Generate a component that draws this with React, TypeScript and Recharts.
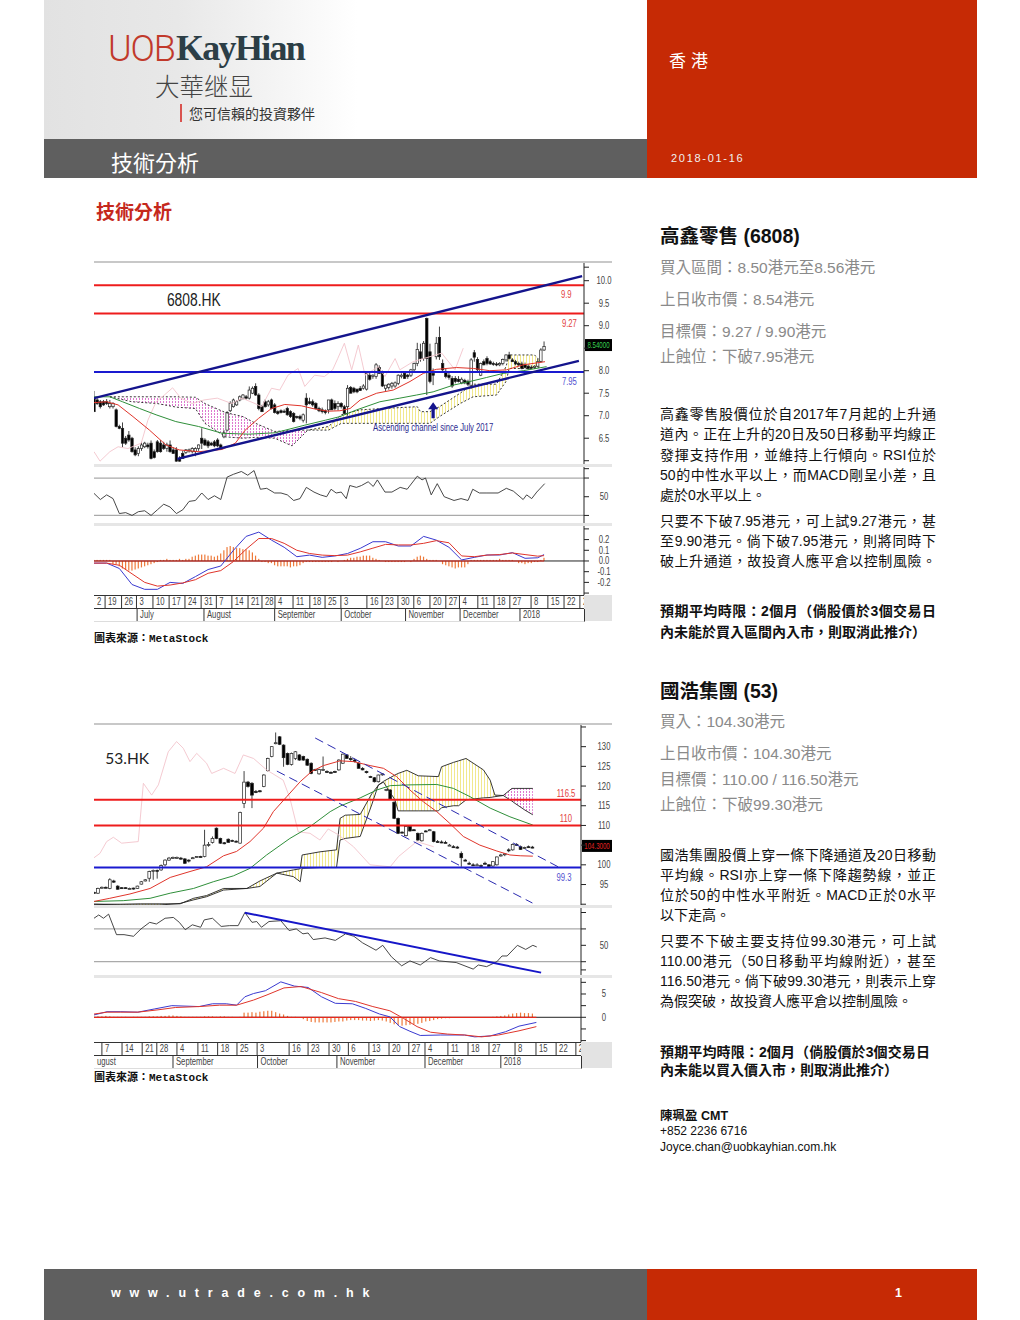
import React from 'react';
import { ComposedChart, Line, Bar, Area, XAxis, YAxis, ReferenceLine, ReferenceDot } from 'recharts';

type Pair = [number, number];
type Row = [number, number, number];

const SANS = '"Liberation Sans",sans-serif';
const CJK = '"Liberation Sans","Noto Sans CJK TC",sans-serif';

// ---- 6808.HK ----
const candles6808 = [
  [7.39,7.55,7.08,7.09],[7.35,7.39,7.24,7.27],[7.31,7.35,7.16,7.2],[7.31,7.35,7.22,7.24],[7.31,7.37,7.24,7.27],
  [7.2,7.35,7.16,7.27],[7.2,7.3,7.16,7.27],[7.13,7.16,6.74,6.76],[6.76,6.8,6.7,6.72],[6.72,6.85,6.3,6.39],
  [6.5,6.55,6.35,6.39],[6.57,6.66,6.42,6.46],[6.5,6.53,6.18,6.2],[6.24,6.3,6.1,6.13],[6.16,6.32,6.1,6.27],
  [6.27,6.42,6.22,6.35],[6.31,6.42,6.28,6.39],[6.35,6.4,6.27,6.31],[6.39,6.45,6.03,6.05],[6.2,6.25,6.05,6.07],
  [6.42,6.46,6.18,6.2],[6.39,6.46,6.18,6.2],[6.35,6.42,6.24,6.27],[6.27,6.4,6.2,6.35],[6.35,6.45,6.18,6.2],
  [6.24,6.3,6.16,6.16],[6.24,6.3,5.98,5.99],[6.05,6.1,5.98,5.99],[6.16,6.22,6.05,6.05],[6.18,6.26,6.15,6.24],
  [6.22,6.27,6.18,6.24],[6.2,6.3,6.16,6.27],[6.2,6.3,6.1,6.27],[6.27,6.36,6.22,6.35],[6.5,6.72,6.26,6.39],
  [6.46,6.5,6.33,6.35],[6.42,6.46,6.28,6.33],[6.39,6.42,6.33,6.35],[6.42,6.46,6.3,6.33],[6.46,6.5,6.3,6.33],
  [6.35,6.38,6.24,6.27],[6.53,6.68,6.5,6.62],[6.68,7.1,6.65,7.07],[7.11,7.32,7.08,7.28],[7.2,7.38,7.18,7.35],
  [7.24,7.34,7.22,7.31],[7.35,7.45,7.32,7.42],[7.39,7.48,7.36,7.46],[7.42,7.46,7.36,7.39],[7.39,7.65,7.36,7.57],
  [7.5,7.65,7.48,7.61],[7.65,7.72,7.44,7.46],[7.46,7.5,7.12,7.16],[7.2,7.24,7.08,7.09],[7.31,7.36,7.18,7.2],
  [7.24,7.35,7.2,7.31],[7.35,7.38,7.14,7.16],[7.24,7.28,7.05,7.07],[7.09,7.12,7.02,7.05],[7.11,7.14,7.05,7.07],
  [7.1,7.14,7.06,7.09],[7.16,7.2,7.0,7.02],[7.09,7.12,6.95,6.98],[7.05,7.08,6.85,6.87],[6.98,7.0,6.93,6.96],
  [6.98,7.02,6.9,6.94],[6.9,7.05,6.85,7.02],[7.39,7.5,6.83,7.24],[7.31,7.4,7.25,7.27],[7.31,7.36,7.2,7.24],
  [7.27,7.3,7.14,7.16],[7.16,7.2,7.08,7.11],[7.13,7.18,7.05,7.09],[7.11,7.14,7.03,7.07],[7.13,7.35,7.05,7.35],
  [7.35,7.38,7.13,7.13],[7.27,7.34,7.12,7.16],[7.2,7.32,7.12,7.27],[7.27,7.3,7.16,7.2],[7.2,7.24,7.03,7.05],
  [7.2,7.68,7.0,7.61],[7.63,7.66,7.5,7.5],[7.61,7.64,7.5,7.53],[7.59,7.6,7.5,7.53],[7.61,7.66,7.55,7.56],
  [7.61,7.7,7.58,7.66],[7.59,7.98,7.56,7.94],[7.9,7.96,7.78,7.81],[7.87,7.92,7.82,7.9],[7.87,8.17,7.82,8.13],
  [8.07,8.12,7.94,7.94],[7.94,8.0,7.64,7.66],[7.61,7.68,7.55,7.68],[7.63,7.72,7.58,7.7],[7.66,7.75,7.6,7.72],
  [7.66,7.76,7.62,7.73],[7.72,7.92,7.68,7.9],[7.87,7.94,7.83,7.9],[7.94,7.97,7.82,7.83],[7.9,7.93,7.82,7.87],
  [7.9,8.04,7.86,8.02],[8.02,8.18,7.98,8.16],[8.16,8.62,8.1,8.47],[8.42,8.6,8.2,8.27],[8.27,8.66,8.22,8.61],
  [9.16,9.18,7.46,8.27],[8.42,8.6,7.72,7.76],[7.94,8.05,7.68,7.9],[8.31,8.75,8.25,8.61],[8.74,8.98,8.24,8.31],
  [8.16,8.25,7.98,8.02],[7.98,8.05,7.83,7.87],[7.9,7.95,7.8,7.85],[7.83,7.88,7.62,7.66],[7.83,7.88,7.72,7.76],
  [7.81,7.88,7.74,7.76],[7.73,7.85,7.7,7.81],[7.78,7.82,7.7,7.73],[7.76,7.8,7.66,7.7],[7.66,8.28,7.6,8.24],
  [8.4,8.46,8.2,8.3],[8.25,8.3,7.98,8.02],[7.9,8.18,7.88,8.16],[8.2,8.25,8.12,8.13],[8.27,8.32,8.12,8.16],
  [8.2,8.24,8.13,8.15],[8.16,8.2,8.11,8.14],[8.15,8.19,8.1,8.14],[8.13,8.19,8.1,8.16],[8.16,8.27,8.12,8.25],
  [8.24,8.36,8.2,8.35],[8.35,8.42,8.25,8.27],[8.24,8.28,8.2,8.2],[8.2,8.24,8.12,8.15],[8.16,8.2,8.1,8.13],
  [8.15,8.2,8.03,8.05],[8.13,8.18,8.05,8.07],[8.1,8.14,8.02,8.05],[8.08,8.12,8.04,8.06],[8.07,8.12,8.04,8.1],
  [8.1,8.26,8.08,8.2],[8.2,8.5,8.18,8.46],[8.46,8.65,8.44,8.54],
];
const ma20_6808: Pair[] = [[0,7.29],[4,7.31],[7.6,7.24],[12.3,6.98],[17.5,6.68],[22.7,6.35],[26.9,6.24],[33.1,6.2],[40.4,6.25],[44.6,6.39],[47.7,6.68],[51.9,6.94],[56,7.16],[60.2,7.25],[65.4,7.22],[69.6,7.15],[73.8,7.1],[77.6,7.11],[80.8,7.16],[84,7.35],[89.2,7.5],[94.4,7.57],[99.7,7.76],[103.9,7.94],[108,8.03],[114.4,8.07],[119.7,8.05],[124.9,8.0],[130.2,8.02],[135.4,8.13],[142.3,8.2]];
const ma50_6808: Pair[] = [[0,7.42],[5,7.42],[9,7.31],[14.4,7.16],[19.6,7.02],[25.8,6.87],[33,6.76],[40.4,6.61],[48.8,6.59],[57.1,6.62],[66.5,6.79],[73,6.9],[77.6,6.98],[82.9,7.13],[90.2,7.31],[96.5,7.39],[101.8,7.46],[107,7.53],[113.4,7.68],[118.6,7.76],[123.9,7.85],[129.1,7.94],[135.4,8.0],[142.8,8.09]];
const lagging6808: Pair[] = [[0,6.2],[1.9,5.99],[5,6.2],[7.6,6.31],[10.7,6.27],[14.9,6.39],[17,6.9],[19.6,7.31],[22.2,7.46],[24.8,7.62],[27.4,7.39],[31,7.27],[34.7,7.35],[38.9,7.39],[43.5,7.27],[46.7,7.39],[50.8,7.27],[52.9,7.2],[56,7.61],[58.6,7.57],[61.2,7.9],[64.4,8.05],[66.5,7.65],[69.6,7.9],[72.7,7.87],[75.3,8.02],[76.9,8.27],[79,8.61],[81.3,8.02],[83.4,8.57],[85.5,7.9],[89.7,8.09],[91.8,7.87],[95,8.27],[96.5,8.02],[100.7,8.2],[109.7,8.39],[113.9,8.02],[116.5,8.5]];
const pinkCloud6808: Row[] = [[5,7.42,7.42],[12,7.42,7.31],[20,7.42,7.27],[26,7.42,7.19],[32,7.41,7.16],[35,7.27,6.83],[41.5,7.07,6.53],[47,6.98,6.5],[51,6.83,6.52],[57,6.65,6.5],[62.5,6.67,6.33],[67.5,6.68,6.68]];
const yellowCloud6808: Row[] = [[67.5,6.68,6.68],[74,6.76,6.68],[78,7.02,6.83],[84,7.13,6.83],[91,7.16,6.83],[102,7.2,6.83],[103,7.09,6.83],[106,7.09,6.83],[109,7.2,6.98],[115.5,7.5,7.27],[119.6,7.7,7.42],[127,7.7,7.46],[130,8.09,7.76],[131,8.35,8.05],[139,8.35,8.05],[141,8.2,8.09]];
const upperChannel6808: Pair[] = [[0,7.39],[154,10.1]];
const lowerChannel6808: Pair[] = [[26.3,6.04],[153,8.22]];
const rsi6808: Pair[] = [[0,53.6],[2,47],[4,52],[6,48],[8,32],[10,33],[12,30],[14,34],[16,35],[18,30],[20,36],[22,42],[24,39],[26,32],[28,36],[30,45],[32,46],[34,54],[36,47],[38,51],[40,47],[42,71],[44,74],[46.5,77],[48.5,73],[50.5,78],[52.5,58],[54.5,59],[57,54],[59,54],[61,52],[63,46],[65,48],[67,60],[69.4,55],[71.4,52],[73.4,50],[74.8,58],[76.4,54],[78,55],[79.6,48],[80.7,62],[82.8,60],[84.4,62],[86.5,66],[88.1,61],[89.4,68],[91.8,55],[94,55],[96.6,60],[98.8,58],[102,72],[103.5,68],[104.6,70],[106.4,52],[108.3,64],[110.5,50],[113.6,46],[115.8,48],[118,46],[119.5,58],[121.6,54],[123.7,54],[127.5,54],[130.1,59],[132.3,56],[135.4,47],[136.5,52],[138.1,48],[139.7,55],[142.2,64]];
const macd6808: Pair[] = [[0,-.02],[4,-.02],[8,-.07],[12,-.22],[16,-.265],[20,-.265],[24,-.2],[28,-.21],[32,-.146],[36,-.08],[40,-.047],[44,.1],[48,.23],[52,.27],[56,.195],[60,.128],[64,.04],[68,.055],[72,.034],[76,.047],[80,.07],[84,.118],[88,.18],[92,.18],[96,.14],[100,.14],[104,.23],[108,.195],[112,.128],[116,.01],[120,.034],[124,.056],[128,.056],[132,.078],[136,.025],[140,.03],[142,.06]];
const signal6808: Pair[] = [[0,-.02],[4,-.02],[8,-.04],[12,-.12],[16,-.2],[20,-.235],[24,-.225],[28,-.205],[32,-.175],[36,-.115],[40,-.09],[44,-.005],[48,.11],[52,.21],[56,.21],[60,.165],[64,.1],[68,.07],[72,.055],[76,.05],[80,.055],[84,.085],[88,.12],[92,.155],[96,.15],[100,.15],[104,.165],[108,.19],[112,.17],[116,.047],[120,.04],[124,.055],[128,.06],[132,.075],[136,.06],[140,.045],[142,.05]];
const hist6808 = [.01,.01,.01,.01,.01,.01,-.03,-.03,-.05,-.07,-.08,-.09,-.09,-.08,-.07,-.06,-.05,-.04,-.03,-.02,-.01,.01,.01,.02,.01,.01,.01,.02,.01,.02,.02,.04,.05,.06,.06,.06,.05,.05,.04,.05,.07,.1,.13,.14,.13,.12,.12,.11,.11,.1,.08,.05,.02,-.01,-.01,-.02,-.02,-.04,-.05,-.05,-.05,-.05,-.06,-.05,-.05,-.04,-.02,-.01,-.01,-.01,-.01,-.01,-.01,-.01,-.01,-.01,0,-.01,0,.01,.02,.03,.03,.04,.04,.05,.05,.05,.03,.02,.01,0,-.01,-.01,-.01,-.01,-.01,-.01,-.01,0,-.01,.02,.04,.05,.04,.02,.01,.01,.01,0,-.03,-.04,-.05,-.06,-.07,-.06,-.06,-.06,-.03,.01,.01,.01,.01,.01,.01,.01,.01,.01,.02,.01,.01,.01,.01,0,-.02,-.02,-.03,-.02,-.02,-.01,-.01,.01,.03];
const dayTicks6808 = [0,3.5,8.7,13.4,18.6,23.7,28.7,33.8,38.6,43.5,48.6,53,57.1,62.8,68.1,72.9,77.9,86.1,90.9,95.9,100.9,106,111,115.3,121.1,126.2,131.2,137.9,143.2,148.3,153.3];
const dayLabels6808 = ['2','19','26','3','10','17','24','31','7','14','21','28','4','11','18','25','3','16','23','30','6','20','27','4','11','18','27','8','15','22','2'];
const monthTicks6808 = [0,13.6,34.7,57,78,98.3,115.5,134.4];
const monthLabels6808 = ['','July','August','September','October','November','December','2018'];
const priceTicks6808 = [10.3,10,9.5,9,8.5,8,7.5,7,6.5,6];
const priceLabels6808 = ['','10.0','9.5','9.0','','8.0','7.5','7.0','6.5',''];
const rsiTicks6808 = [80,70,50,30];
const rsiLabels6808 = ['','','50',''];
const macdTicks6808 = [.3,.2,.1,0,-.1,-.2,-.3];
const macdLabels6808 = ['','0.2','0.1','0.0','-0.1','-0.2',''];

// ---- 53.HK ----
const candles53 = [
  [93,93.2,92.7,92.9],[92.8,94.2,92.6,94],[94.1,94.5,94,94.3],[94.3,94.5,94.1,94.2],[94,96.6,93.8,96.2],
  [95.9,96.2,95.4,95.6],[94.6,94.8,93.7,93.8],[94.2,94.3,93.9,94],[94.2,94.3,93.9,94.1],[94,94.2,93.8,94],
  [94.1,94.2,93.7,94],[94,94.7,93.9,94.6],[95.1,95.9,95,95.7],[95.9,96.4,95.8,96.2],[96.6,98.5,95.7,98.3],
  [98.4,98.8,96.2,98.6],[98.6,98.8,96.5,98.4],[98.7,100.1,98.5,99.8],[100,101.4,99.6,101.2],[101.2,102,101,101.7],
  [101.7,102.1,101.5,101.9],[101.7,102.1,101.5,101.9],[101.7,102,101.3,101.5],[101.5,101.7,100.2,100.4],[101.2,101.4,100.6,101],
  [101.7,102,101.5,101.8],[102,102.2,101.8,102.1],[102.1,102.3,101.9,102],[102.1,108.9,101.9,105],[105,105.8,104.6,105.2],
  [105.7,107.2,105.4,106.7],[109.3,109.5,106.5,106.7],[106.7,106.9,105.3,105.5],[105.6,105.8,105.2,105.5],[106.5,106.7,105.6,105.7],
  [106.2,106.4,105.9,106.1],[106,106.2,105.7,105.9],[105.5,113.5,105.4,113.3],[115.6,123.8,114.4,121],[121,121.3,119.6,119.9],
  [120.7,121,114.4,117.7],[118.6,119,118.2,118.4],[118.8,119,118.4,118.6],[119.9,123,119.7,122.8],[123.9,127.2,123.7,127],
  [127.5,130.1,127.3,130],[130.8,133.6,130.6,131],[132.5,132.7,130.4,130.6],[130.4,130.6,124.9,127.2],[128.3,128.5,125.3,125.5],
  [125.5,128.5,125.2,128.3],[127,128.9,126.6,128.7],[127.9,128.1,126.4,126.6],[127.5,127.7,126.4,126.6],[126.8,127,125.1,125.3],
  [125.8,126,123,123.2],[124.2,124.4,123.9,124.1],[123.1,124.4,122.9,124.2],[124.1,127.5,123.9,124.2],[123.7,124,123.3,123.6],
  [123.5,123.7,123.2,123.4],[123.7,123.9,123.4,123.6],[124.1,126.8,123.9,126.6],[125.8,128.2,125.6,128.1],[127.9,128.1,127,127],
  [127,127.6,126.4,126.7],[126.6,127,126,126.2],[125.8,126,124.5,124.5],[124.5,124.8,124,124.1],[123.7,123.9,123.2,123.4],
  [122.4,122.6,122.1,122.2],[122.1,122.3,120.9,121.1],[121.1,122.9,120.9,122.8],[123,123.3,122.6,123.1],[119,119.3,118.7,119.1],
  [119,119.2,116.5,116.7],[115.9,116.1,111.6,111.8],[111.8,112,107.8,108],[108.3,108.5,108,108.2],[107.4,109.9,107.2,109.7],
  [109.7,110,108.4,108.6],[108.9,109.1,108.6,108.8],[108,108.2,106.1,106.3],[106.1,108.2,105.9,108],[108.6,108.8,108.3,108.5],
  [108.8,109.1,108.6,108.9],[108.4,108.6,105.7,105.9],[105.9,106.3,105.6,105.8],[105.8,106.2,105.5,105.6],[105.7,106.1,105.5,105.6],
  [105,105.3,104.8,105],[104.6,105,104.3,104.5],[104.5,104.8,104.1,104.4],[102.9,103.4,99.5,101.8],[101.2,101.5,100.9,101.1],
  [100.4,100.8,100.1,100.3],[100,100.4,99.8,99.9],[100,100.4,99.8,100],[99.8,100.1,99.5,99.7],[100.4,100.8,100.1,100.3],
  [100,100.2,99.5,99.6],[99.7,100.9,99.5,100.8],[100,102.1,99.8,102],[102.4,102.8,102.1,102.5],[102.7,103,102.2,102.8],
  [103.8,104.2,103.2,103.6],[103.8,105.4,103.6,105.2],[105.2,105.5,104.9,105.1],[104.6,104.9,103.8,103.9],[104.3,104.6,104,104.4],[104.6,104.9,104.3,104.5],[104.5,104.8,104.2,104.3],
];
const ma20_53: Pair[] = [[0,90.7],[4,91.5],[9.1,92.6],[14.2,94],[19.3,96.8],[24.3,98.3],[28.5,99.5],[32.8,102.3],[36.1,103.4],[39.5,105.9],[42.9,109.3],[45.4,113.5],[48.8,117.3],[52.2,121.1],[55.1,123.7],[58.1,125.2],[62.3,126.4],[65.7,126.2],[69.9,125.2],[73.3,124.5],[76.6,122.4],[80,119],[83.4,116],[86.8,113.5],[90.1,110.5],[93.5,107.2],[97.7,105],[102,103.5],[105.3,102.5],[107.9,102.3],[111.1,102.2]];
const ma50_53: Pair[] = [[0,90.7],[7.4,90.9],[14.2,91.5],[19.3,92.8],[25.2,94],[30.2,95.7],[35.3,97.2],[39.5,99.1],[43.7,102.5],[49.6,106.7],[54.7,109.7],[59.8,113.5],[62.3,114.9],[67.4,117],[71.6,119],[75,120.1],[80,120.3],[86.8,120.4],[91,119.4],[95.2,117.3],[100.3,114.4],[105.3,112.2],[111.1,110.1]];
const lagging53: Pair[] = [[0,101.8],[1.5,102.9],[3.2,105.9],[4.9,107],[7,105.5],[11.2,105.9],[12.5,120.7],[14.6,117.7],[16.3,120.3],[18.8,128.7],[20.9,131.3],[22.6,129.6],[24.3,126.2],[26,128.3],[28.5,125.8],[29.8,123.2],[32.8,124.5],[35.7,123.2],[37.8,127.9],[40.4,127],[43.7,124.1],[47.9,121.5],[49.6,116.9],[51.7,108.4],[54.7,108],[57.2,106.3],[59.3,109.1],[61.9,107.6],[65.7,104.6],[69.9,100],[75,99.5],[77.1,102.1],[81.7,105.9],[86,104.6]];
const yellowCloud53: Row[] = [[0,90,90],[6.6,90,89.8],[11.7,90.1,89.8],[16.7,90.1,89.8],[21.8,90.1,90.2],[25.2,91.5,91.1],[28.5,92.2,91.9],[32.8,94,93.6],[38.7,94,94],[42,95.9,94.5],[46.3,97.9,97.9],[50.5,98.7,97],[52.2,99,95.7],[52.7,102.5,99.1],[57.2,103.3,99.3],[61.4,103.8,99.3],[62.3,111.8,106.3],[63.6,112.6,106.7],[67.4,112.8,107.2],[70.3,118,115.2],[72,120.2,120.3],[73.3,121.2,121],[76.2,122.8,116.5],[77,123.2,113.7],[79.2,124,113.7],[82.1,122.6,113.7],[87.2,122.4,113.7],[88,124.9,114.5],[91,126,115],[92.3,126.4,115],[94.2,127,116.5],[98.6,124.1,117],[100.3,121.5,117.1],[101.5,117.7,117.3],[103.6,117.6,117.6]];
const pinkCloud53: Row[] = [[103.6,117.6,117.6],[105.8,119.4,116.2],[106.6,119.4,115.6],[109.1,119.4,113.9],[111.1,119.4,112.7]];
const upperChannel53: Pair[] = [[56,132.2],[117.5,99.5]];
const lowerChannel53: Pair[] = [[46.3,123.8],[111,90.3]];
const rsi53: Pair[] = [[0,83],[1.2,87],[2.4,83],[3.7,88],[5.7,63],[7.6,63],[10,61],[11.9,70],[14.1,78],[15.8,76],[18,83],[20.1,84],[21.6,78],[23.1,69],[24.9,75],[27,72],[27.9,81],[30,83],[32.2,73],[34.3,74],[36.5,74],[38.2,90],[40,78],[41.2,79],[42.4,72],[44.3,79],[47.3,80],[49.4,68],[51.2,70],[52.9,64],[54.2,65],[55.5,57],[58.5,59],[61.1,56],[63.7,64],[65.8,61],[68,53],[71.4,44],[73.1,50],[75.3,36],[77.9,25],[80,31],[82.6,26],[85.2,35],[87.4,31],[91.7,29],[96,21],[97.3,26],[99.4,24],[102,30],[103.3,37],[104.6,37],[107.2,50],[109.3,45],[111.1,50],[112.1,48]];
const rsiTrend53: Pair[] = [[38.2,89.8],[113.2,16.7]];
const macd53: Pair[] = [[0,.5],[3.3,1.2],[6.8,1.2],[11.1,1.1],[15.4,1.8],[19.7,2.5],[26.6,2.3],[30,2.9],[33.5,2.9],[36.1,2.6],[38.2,4.4],[40.4,5.1],[43.4,5.7],[47.3,7.6],[50.7,6.7],[54.2,6.4],[57.6,4.4],[61.1,3],[65.4,2.9],[68.8,1.9],[72.3,.7],[74.9,.1],[77.4,-2],[80,-3],[82.6,-3.9],[87.8,-3.8],[93.8,-3.8],[96.4,-4.2],[100.3,-4],[104.2,-3.1],[107.6,-1.9],[112,-1.1]];
const signal53: Pair[] = [[0,.7],[3.3,1.1],[6.8,1.1],[11.1,1.1],[16.2,1.6],[20.6,2.1],[26.6,2.3],[31.8,2.6],[36.1,2.6],[40.4,3.7],[43.8,4.8],[48.1,6.3],[52.4,6.6],[57.6,5.3],[61.9,4],[66.2,3.4],[70.6,2.3],[74.9,1.4],[78.3,-.2],[81.8,-2],[85.2,-3.2],[89.5,-3.6],[93.8,-3.8],[98.1,-4.2],[102.4,-3.8],[107.6,-2.9],[112,-2]];
const hist53 = [.1,.2,.2,.3,.2,.1,.1,.1,.1,0,.1,.1,.1,.1,.2,.2,.2,.3,.3,.4,.4,.3,.2,.1,.1,.1,.1,.1,.2,.2,.2,.1,.2,.2,.1,.1,0,.1,1,1,1.1,1,1.2,1.3,1.4,1.4,1.1,.8,.6,.3,.1,.1,0,-.4,-.8,-1,-1.1,-1.1,-1.1,-1.1,-1.1,-1,-.9,-.9,-.7,-.6,-.6,-.6,-.7,-.7,-.8,-.7,-.6,-.7,-.9,-1.2,-1.5,-1.7,-1.8,-1.7,-1.6,-1.5,-1.4,-1.2,-.9,-.8,-.6,-.4,-.3,-.2,-.2,-.1,-.1,-.1,0,-.1,-.1,-.1,0,0,0,.1,.2,.3,.4,.6,.8,.9,1,.9,.9,.8];
const dayTicks53 = [2,7.1,12.2,15.9,21,26.3,31.3,36.2,41.3,49.4,54.2,59.5,64.4,69.6,74.7,79.7,83.8,89.6,94.7,100,106.6,111.9,117,122];
const dayLabels53 = ['7','14','21','28','4','11','18','25','3','16','23','30','6','13','20','27','4','11','18','27','8','15','22','2'];
const monthTicks53 = [0,20,41.4,61.5,83.8,103];
const monthLabels53 = ['ugust','September','October','November','December','2018'];
const priceTicks53 = [135,130,125,120,115,110,105,100,95,90];
const priceLabels53 = ['','130','125','120','115','110','','100','95',''];
const rsiTicks53 = [90,70,50,30,20];
const rsiLabels53 = ['','','50','',''];
const macdTicks53 = [7.5,5,2.5,0,-2.5,-5];
const macdLabels53 = ['','5','','0','',''];

const bodyLines6808 = ['高鑫零售股價位於自2017年7月起的上升通', '道內。正在上升的20日及50日移動平均線正', '發揮支持作用，並維持上行傾向。RSI位於', '50的中性水平以上，而MACD剛呈小差，且'];
const bodyLines53 = ['國浩集團股價上穿一條下降通道及20日移動', '平均線。RSI亦上穿一條下降趨勢線，並正', '位於50的中性水平附近。MACD正於0水平'];

const toPoints = (pairs: Pair[]) => pairs.map(([x, v]) => ({ x, v }));
const toCandles = (rows: number[][]) => rows.map(([o, h, l, c], x) => ({ x, o, h, l, c }));
const toHist = (vals: number[]) => vals.map((v, x) => ({ x, v }));
const toCloud = (rows: Row[]) => rows.map(([x, a, b]) => ({ x, r: [b, a], a, b }));

const Candle = (props: any) => {
  const { x, y, width, height, payload, bodyW } = props;
  const { o, h, l, c } = payload;
  const ppx = h > l ? height / (h - l) : 0;
  const mid = x + width / 2;
  const bodyTop = y + (h - Math.max(o, c)) * ppx;
  const bodyH = Math.max(Math.abs(o - c) * ppx, 1);
  return (
    <g>
      <line x1={mid} x2={mid} y1={y} y2={y + height} stroke="#111" strokeWidth={0.8} />
      <rect x={mid - bodyW / 2} y={bodyTop} width={bodyW} height={bodyH} fill={c >= o ? '#fff' : '#000'} stroke="#222" strokeWidth={0.7} />
    </g>
  );
};

const HistBar = (props: any) => {
  const { x, y, width, height } = props;
  return <rect x={x + width / 2 - 0.6} y={Math.min(y, y + height)} width={1.2} height={Math.abs(height)} fill="#ee7a3a" />;
};

// Liberation Sans squeezed sideways, the source chart uses a narrow face
const Narrow = ({ x, y, size, color, anchor = 'start', squeeze = 0.77, children }: any) => (
  <text transform={`translate(${x} ${y}) scale(${squeeze} 1)`} textAnchor={anchor} fontSize={size} fontFamily={SANS} fill={color}>{children}</text>
);

const axisTick = (ticks: number[], names: string[], len: number, labelX: number) => (p: any) => {
  const i = ticks.indexOf(p.payload.value);
  return (
    <g>
      <line x1={p.x} x2={p.x + len} y1={p.y} y2={p.y} stroke="#222" />
      <Narrow x={labelX} y={p.y + 3.5} size={10} color="#444" anchor="middle">{names[i]}</Narrow>
    </g>
  );
};

const note = (text: string, color: string, size: number, family?: string) => (p: any) =>
  family ? (
    <text x={p.cx} y={p.cy + size * 0.35} textAnchor="middle" fontSize={size} fontFamily={family} fill={color}>{text}</text>
  ) : (
    <Narrow x={p.cx} y={p.cy + size * 0.35} size={size} color={color} anchor="middle">{text}</Narrow>
  );

const badge = (text: string, color: string, w: number) => (p: any) => (
  <g>
    <rect x={p.cx + 1} y={p.cy - 6} width={w} height={12} fill="#000" />
    <Narrow x={p.cx + 1 + w / 2} y={p.cy + 3} size={8.5} color={color} anchor="middle" squeeze={0.72}>{text}</Narrow>
  </g>
);

const UpArrow = (p: any) => (
  <path d={`M${p.cx} ${p.cy - 8} L${p.cx + 5} ${p.cy - 1} L${p.cx + 1.6} ${p.cy - 1} L${p.cx + 1.6} ${p.cy + 8} L${p.cx - 1.6} ${p.cy + 8} L${p.cx - 1.6} ${p.cy - 1} L${p.cx - 5} ${p.cy - 1} Z`} fill="#14148c" />
);

const Hatches = ({ id }: { id: string }) => (
  <defs>
    <pattern id={`pink${id}`} width="3" height="3" patternUnits="userSpaceOnUse">
      <rect width="1" height="2" fill="#dd78cf" />
    </pattern>
    <pattern id={`yellow${id}`} width="3" height="3" patternUnits="userSpaceOnUse">
      <rect width="1" height="3" fill="#f1e88e" />
    </pattern>
  </defs>
);

const DateRow = ({ max, plotW, height, ticks, labels }: any) => {
  const tick = (p: any) => {
    const label = labels[ticks.indexOf(p.payload.value)];
    return (
      <g>
        {p.payload.value > 0 && <line x1={p.x} x2={p.x} y1={0} y2={height} stroke="#333" />}
        <Narrow x={p.x + 3} y={height - 3} size={10} color="#444">{label}</Narrow>
      </g>
    );
  };
  return (
    <ComposedChart width={plotW} height={height} data={ticks.map((x: number) => ({ x, v: 0 }))} margin={{ top: 0, right: 0, bottom: 0, left: 0 }}>
      <XAxis type="number" dataKey="x" domain={[0, max]} ticks={ticks} interval={0} height={height - 1} axisLine={false} tickLine={false} tick={tick} allowDataOverflow />
      <YAxis hide domain={[0, 1]} />
      <Line dataKey="v" stroke="none" dot={false} isAnimationActive={false} />
    </ComposedChart>
  );
};

const Stock = ({ top, plotW, max, cfg }: any) => {
  const fullW = 518;
  const axisW = fullW - plotW;
  const labelX = 510;
  const margin = { top: 0, right: 0, bottom: 0, left: 0 };
  const cloud = [...cfg.pink, ...cfg.yellow].sort((p, q) => p[0] - q[0]);
  const dashChannel = cfg.dashChannels;
  const xAxis = <XAxis type="number" dataKey="x" domain={[0, max]} hide allowDataOverflow />;
  const band = (y: number) => <div style={{ position: 'absolute', left: 0, top: y, width: fullW, height: 3, background: '#e6e6e6' }} />;
  const h = cfg.heights;
  return (
    <div style={{ position: 'absolute', left: 94, top, width: fullW, height: h.price + h.rsi + h.macd + 6 + h.row * 2 }}>
      <div style={{ position: 'absolute', left: 0, top: -2, width: fullW, height: 2, background: '#c8c8c8' }} />
      <div style={{ position: 'absolute', left: 0, top: 0 }}>
        <ComposedChart width={fullW} height={h.price} data={toCandles(cfg.candles)} margin={margin}>
          <Hatches id={cfg.id} />
          {xAxis}
          <YAxis orientation="right" width={axisW} domain={cfg.priceDomain} ticks={cfg.priceTicks} interval={0} tickLine={false} tickSize={0} tickMargin={0} axisLine={{ stroke: '#222' }} tick={axisTick(cfg.priceTicks, cfg.priceLabels, 5, labelX)} allowDataOverflow />
          <Area data={toCloud(cfg.pink)} dataKey="r" stroke="none" fill={`url(#pink${cfg.id})`} fillOpacity={1} dot={false} activeDot={false} isAnimationActive={false} />
          <Area data={toCloud(cfg.yellow)} dataKey="r" stroke="none" fill={`url(#yellow${cfg.id})`} fillOpacity={1} dot={false} activeDot={false} isAnimationActive={false} />
          <Line data={toCloud(cloud)} dataKey="a" stroke="#222" strokeWidth={0.9} strokeDasharray={cfg.cloudDash} dot={false} isAnimationActive={false} />
          <Line data={toCloud(cloud)} dataKey="b" stroke="#222" strokeWidth={0.9} strokeDasharray={cfg.cloudDash} dot={false} isAnimationActive={false} />
          <Line data={toPoints(cfg.lagging)} dataKey="v" stroke="#f3c4cc" strokeWidth={0.9} dot={false} isAnimationActive={false} />
          <Line data={toPoints(cfg.ma50)} dataKey="v" stroke="#2f8f3a" strokeWidth={1} dot={false} isAnimationActive={false} />
          <Line data={toPoints(cfg.ma20)} dataKey="v" stroke="#e0352b" strokeWidth={1} dot={false} isAnimationActive={false} />
          <Bar dataKey={(r: any) => [r.l, r.h]} barSize={3} shape={<Candle bodyW={cfg.bodyW} />} isAnimationActive={false} />
          {cfg.levels.map((l: any) => (
            <ReferenceLine key={l.y} y={l.y} stroke={l.color} strokeWidth={2} />
          ))}
          <Line data={toPoints(cfg.upper)} dataKey="v" stroke={cfg.channelColor} strokeWidth={dashChannel ? 1 : 2.4} strokeDasharray={dashChannel ? '9 5' : undefined} dot={false} isAnimationActive={false} />
          <Line data={toPoints(cfg.lower)} dataKey="v" stroke={cfg.channelColor} strokeWidth={dashChannel ? 1 : 2.4} strokeDasharray={dashChannel ? '9 5' : undefined} dot={false} isAnimationActive={false} />
          {cfg.notes.map((n: any) => (
            <ReferenceDot key={n.text} x={n.x} y={n.y} r={0} ifOverflow="visible" shape={note(n.text, n.color, n.size, n.family)} />
          ))}
          {cfg.arrow && <ReferenceDot x={cfg.arrow[0]} y={cfg.arrow[1]} r={0} shape={UpArrow} />}
          <ReferenceDot x={max} y={cfg.last[0]} r={0} ifOverflow="visible" shape={badge(cfg.last[1], cfg.last[2], cfg.badgeW)} />
        </ComposedChart>
      </div>
      {band(h.price)}
      <div style={{ position: 'absolute', left: 0, top: h.price + 3 }}>
        <ComposedChart width={fullW} height={h.rsi} data={toHist([0])} margin={margin}>
          {xAxis}
          <YAxis orientation="right" width={axisW} domain={cfg.rsiDomain} ticks={cfg.rsiTicks} interval={0} tickLine={false} tickSize={0} tickMargin={0} axisLine={{ stroke: '#222' }} tick={axisTick(cfg.rsiTicks, cfg.rsiLabels, 5, labelX)} allowDataOverflow />
          <ReferenceLine y={70} stroke="#aaa" strokeWidth={1.2} />
          <ReferenceLine y={30} stroke="#aaa" strokeWidth={1.2} />
          <Line data={toPoints(cfg.rsi)} dataKey="v" stroke="#333" strokeWidth={0.9} dot={false} isAnimationActive={false} />
          {cfg.rsiTrend && <Line data={toPoints(cfg.rsiTrend)} dataKey="v" stroke="#1616c8" strokeWidth={2} dot={false} isAnimationActive={false} />}
        </ComposedChart>
      </div>
      {band(h.price + 3 + h.rsi)}
      <div style={{ position: 'absolute', left: 0, top: h.price + h.rsi + 6 }}>
        <ComposedChart width={fullW} height={h.macd} data={toHist(cfg.hist)} margin={margin}>
          {xAxis}
          <YAxis orientation="right" width={axisW} domain={cfg.macdDomain} ticks={cfg.macdTicks} interval={0} tickLine={false} tickSize={0} tickMargin={0} axisLine={{ stroke: '#222' }} tick={axisTick(cfg.macdTicks, cfg.macdLabels, 5, labelX)} allowDataOverflow />
          <ReferenceLine y={0} stroke="#222" />
          <Bar dataKey="v" barSize={1} shape={<HistBar />} isAnimationActive={false} />
          <Line data={toPoints(cfg.zero)} dataKey="v" stroke="#e8281e" strokeWidth={1.2} dot={false} isAnimationActive={false} />
          <Line data={toPoints(cfg.macd)} dataKey="v" stroke="#3a3ad0" strokeWidth={1} dot={false} isAnimationActive={false} />
          <Line data={toPoints(cfg.signal)} dataKey="v" stroke="#e0352b" strokeWidth={1} dot={false} isAnimationActive={false} />
        </ComposedChart>
      </div>
      <div style={{ position: 'absolute', left: plotW, top: h.price + h.rsi + h.macd + 6, width: axisW, height: h.row * 2 + 2, background: '#e3e3e3' }} />
      <div style={{ position: 'absolute', left: 0, top: h.price + h.rsi + h.macd + 6, borderTop: '1px solid #333', borderBottom: '1px solid #333', width: plotW, height: h.row }}>
        <DateRow max={max} plotW={plotW} height={h.row} ticks={cfg.dayTicks} labels={cfg.dayLabels} />
      </div>
      <div style={{ position: 'absolute', left: 0, top: h.price + h.rsi + h.macd + 6 + h.row + 2, width: plotW, borderRight: '1px solid #333', borderBottom: '1px solid #ddd', height: h.row }}>
        <DateRow max={max} plotW={plotW} height={h.row} ticks={cfg.monthTicks} labels={cfg.monthLabels} />
      </div>
    </div>
  );
};

const cfg6808 = {
  id: 'a', heights: { price: 201, rsi: 56, macd: 69, row: 12 }, bodyW: 2.4, badgeW: 27,
  candles: candles6808, ma20: ma20_6808, ma50: ma50_6808, lagging: lagging6808, pink: pinkCloud6808, yellow: yellowCloud6808,
  upper: upperChannel6808, lower: lowerChannel6808, channelColor: '#14148c', dashChannels: false, cloudDash: '2 2',
  priceDomain: [5.927, 10.393], priceTicks: priceTicks6808, priceLabels: priceLabels6808,
  levels: [{ y: 9.9, color: '#ee1c1c' }, { y: 9.27, color: '#ee1c1c' }, { y: 7.97, color: '#1a1ad0' }],
  notes: [
    { x: 31.5, y: 9.57, text: '6808.HK', color: '#222', size: 18 },
    { x: 149, y: 9.7, text: '9.9', color: '#e2403c', size: 10 },
    { x: 150, y: 9.04, text: '9.27', color: '#e2403c', size: 10 },
    { x: 150, y: 7.77, text: '7.95', color: '#5050d0', size: 10 },
    { x: 107, y: 6.73, text: 'Ascending channel since July 2017', color: '#2a2a90', size: 10 },
  ],
  arrow: [107, 7.12], last: [8.57, '8.54000', '#39d353'],
  rsi: rsi6808, rsiDomain: [21.9, 81.8], rsiTicks: rsiTicks6808, rsiLabels: rsiLabels6808,
  hist: hist6808, macd: macd6808, signal: signal6808, zero: [[0, 0], [142, 0]] as Pair[],
  macdDomain: [-.318, .327], macdTicks: macdTicks6808, macdLabels: macdLabels6808,
  dayTicks: dayTicks6808, dayLabels: dayLabels6808, monthTicks: monthTicks6808, monthLabels: monthLabels6808,
};

const cfg53 = {
  id: 'b', heights: { price: 180, rsi: 67, macd: 64, row: 12 }, bodyW: 2.8, badgeW: 30,
  candles: candles53, ma20: ma20_53, ma50: ma50_53, lagging: lagging53, pink: pinkCloud53, yellow: yellowCloud53,
  upper: upperChannel53, lower: lowerChannel53, channelColor: '#2a2ab0', dashChannels: true, cloudDash: undefined,
  priceDomain: [89.8, 135.5], priceTicks: priceTicks53, priceLabels: priceLabels53,
  levels: [{ y: 116.5, color: '#ee1c1c' }, { y: 110, color: '#ee1c1c' }, { y: 99.3, color: '#1a1ad0' }],
  notes: [
    { x: 8.4, y: 127.1, text: '53.HK', color: '#222', size: 15.5, family: 'Lato,sans-serif' },
    { x: 119.5, y: 118.2, text: '116.5', color: '#e2403c', size: 10 },
    { x: 119.5, y: 111.7, text: '110', color: '#e2403c', size: 10 },
    { x: 119, y: 96.9, text: '99.3', color: '#5050d0', size: 10 },
  ],
  arrow: null, last: [104.8, '104.3000', '#e02020'],
  rsi: rsi53, rsiTrend: rsiTrend53, rsiDomain: [13.8, 95.5], rsiTicks: rsiTicks53, rsiLabels: rsiLabels53,
  hist: hist53, macd: macd53, signal: signal53, zero: [[0, 0], [112, 0]] as Pair[],
  macdDomain: [-5.3, 8.43], macdTicks: macdTicks53, macdLabels: macdLabels53,
  dayTicks: dayTicks53, dayLabels: dayLabels53, monthTicks: monthTicks53, monthLabels: monthLabels53,
};

const T = ({ x, y, size, color = '#111', bold, w, font = CJK, spacing, weight, children }: any) => (
  <div style={{ position: 'absolute', left: x, top: y, transform: 'translateY(-50%)', fontSize: size, color, fontWeight: weight ?? (bold ? 700 : 400), fontFamily: font, whiteSpace: 'nowrap', lineHeight: 1.2, letterSpacing: spacing, width: w, textAlign: w ? 'justify' : undefined, textAlignLast: w ? 'justify' : undefined }}>
    {children}
  </div>
);

const Caption = ({ y }: { y: number }) => (
  <T x={94} y={y} size={11} font='"Liberation Mono","Noto Sans CJK TC",monospace' bold>圖表來源：MetaStock</T>
);

export default function App() {
  return (
    <div style={{ position: 'absolute', left: 0, top: 0, width: 1020, height: 1320, background: '#fff', overflow: 'hidden' }}>
      <div style={{ position: 'absolute', left: 44, top: 0, width: 603, height: 139, background: 'linear-gradient(90deg,#e2e2e2 0%,#e8e8e8 22%,#f4f4f4 38%,#ffffff 52%)' }} />
      <div style={{ position: 'absolute', left: 44, top: 139, width: 603, height: 39, background: '#5f5f5f' }} />
      <div style={{ position: 'absolute', left: 647, top: 0, width: 330, height: 178, background: '#c62a05' }} />
      <T x={108} y={50} size={36} color="#c1392b" font="Roboto,'Liberation Sans',sans-serif" weight={300} spacing={-1.2}>UOB</T>
      <T x={176} y={49} size={36} bold color="#2c3e46" font="'Liberation Serif',serif" spacing={-1.7}>KayHian</T>
      <T x={155} y={86} size={24.5} color="#444" font='"Noto Sans CJK TC"' weight={300}>大華继显</T>
      <div style={{ position: 'absolute', left: 180, top: 104, width: 1.5, height: 18, background: '#d9534f' }} />
      <T x={189} y={113} size={14} color="#333" font='"Noto Sans CJK TC"'>您可信賴的投資夥伴</T>
      <T x={111} y={161} size={22} color="#fff" font='"Noto Sans CJK TC"'>技術分析</T>
      <T x={669} y={60} size={17} color="#fff" font='"Noto Sans CJK TC"' spacing={5}>香港</T>
      <T x={671} y={159} size={11} color="#f1f1f1" spacing={1.7}>2018-01-16</T>
      <T x={96} y={213} size={19} bold color="#c5281c">技術分析</T>

      <Stock top={263} plotW={490} max={154.6} cfg={cfg6808} />
      <Caption y={640} />
      <Stock top={725} plotW={487} max={123.3} cfg={cfg53} />
      <Caption y={1079} />

      <T x={660} y={237} size={19.5} bold>高鑫零售 (6808)</T>
      <T x={660} y={268} size={15.5} color="#8a8a8a">買入區間：8.50港元至8.56港元</T>
      <T x={660} y={300} size={15.5} color="#8a8a8a">上日收市價：8.54港元</T>
      <T x={660} y={332} size={15.5} color="#8a8a8a">目標價：9.27 / 9.90港元</T>
      <T x={660} y={357} size={15.5} color="#8a8a8a">止蝕位：下破7.95港元</T>
      {bodyLines6808.map((s, i) => <T key={s} x={660} y={414 + i * 20.3} size={14} w={276}>{s}</T>)}
      <T x={660} y={495} size={14}>處於0水平以上。</T>
      <T x={660} y={521} size={14} w={276}>只要不下破7.95港元，可上試9.27港元，甚</T>
      <T x={660} y={541} size={14} w={276}>至9.90港元。倘下破7.95港元，則將同時下</T>
      <T x={660} y={561} size={14} w={276}>破上升通道，故投資人應平倉以控制風險。</T>
      <T x={660} y={611} size={14} bold w={276}>預期平均時限：2個月（倘股價於3個交易日</T>
      <T x={660} y={632} size={14} bold w={264}>內未能於買入區間內入市，則取消此推介）</T>

      <T x={660} y={692} size={19.5} bold>國浩集團 (53)</T>
      <T x={660} y={722} size={15.5} color="#8a8a8a">買入：104.30港元</T>
      <T x={660} y={754} size={15.5} color="#8a8a8a">上日收市價：104.30港元</T>
      <T x={660} y={780} size={15.5} color="#8a8a8a">目標價：110.00 / 116.50港元</T>
      <T x={660} y={805} size={15.5} color="#8a8a8a">止蝕位：下破99.30港元</T>
      {bodyLines53.map((s, i) => <T key={s} x={660} y={855 + i * 20} size={14} w={276}>{s}</T>)}
      <T x={660} y={915} size={14}>以下走高。</T>
      <T x={660} y={941} size={14} w={276}>只要不下破主要支持位99.30港元，可上試</T>
      <T x={660} y={961} size={14} w={276}>110.00港元（50日移動平均線附近），甚至</T>
      <T x={660} y={981} size={14} w={276}>116.50港元。倘下破99.30港元，則表示上穿</T>
      <T x={660} y={1001} size={14}>為假突破，故投資人應平倉以控制風險。</T>
      <T x={660} y={1052} size={14} bold w={270}>預期平均時限：2個月（倘股價於3個交易日</T>
      <T x={660} y={1070} size={14} bold w={235}>內未能以買入價入市，則取消此推介）</T>
      <T x={660} y={1116} size={12.5} bold>陳珮盈    CMT</T>
      <T x={660} y={1131} size={12}>+852 2236 6716</T>
      <T x={660} y={1147} size={12}>Joyce.chan@uobkayhian.com.hk</T>

      <div style={{ position: 'absolute', left: 44, top: 1269, width: 603, height: 51, background: '#5f5f5f' }} />
      <div style={{ position: 'absolute', left: 647, top: 1269, width: 330, height: 51, background: '#c62a05' }} />
      <T x={111} y={1293} size={12.5} bold color="#fff" spacing={8.8}>www.utrade.com.hk</T>
      <T x={895} y={1293} size={12.5} bold color="#fff">1</T>
    </div>
  );
}
